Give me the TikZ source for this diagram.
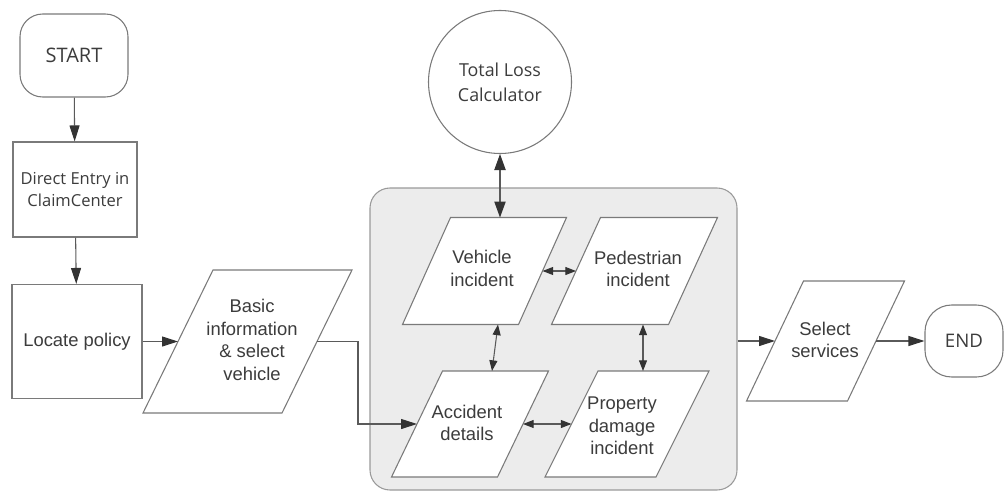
\documentclass[tikz,border=0pt]{standalone}
\usepackage{fontspec}
\setmainfont{Liberation Sans}
\newfontfamily\osans{Open Sans}
\usetikzlibrary{arrows.meta}
\definecolor{linec}{HTML}{5A5A5A}
\definecolor{headc}{HTML}{333333}
\definecolor{boxc}{HTML}{7A7A7A}
\definecolor{textc}{HTML}{3C3C3C}
\definecolor{groupfill}{HTML}{ECECEC}
\definecolor{groupline}{HTML}{9A9A9A}
\newcommand{\pgram}[6]{%
  \draw[pbox] ({#2-#4/2+#6/2},{#3-#5/2}) -- ({#2+#4/2+#6/2},{#3-#5/2}) -- ({#2+#4/2-#6/2},{#3+#5/2}) -- ({#2-#4/2-#6/2},{#3+#5/2}) -- cycle;
  \coordinate (#1-w) at ({#2-#4/2},#3);
  \coordinate (#1-e) at ({#2+#4/2},#3);
}
\begin{document}
\begin{tikzpicture}[x=0.75pt,y=-0.75pt,
  pbox/.style={draw=boxc, line width=0.8pt, fill=white},
  rbox/.style={draw=boxc, line width=0.8pt, fill=white, inner sep=0pt},
  txt/.style={align=center, text=textc, inner sep=0pt, font=\fontsize{13.8}{17}\selectfont},
  otxt/.style={align=center, text=textc, font=\osans\fontsize{12.4}{17}\selectfont},
  arr/.style={draw=linec, line width=0.8pt, -{Triangle[length=12pt,width=7.5pt,color=headc]}},
  dbl/.style={draw=linec, line width=0.8pt, {Triangle[length=8pt,width=6pt,color=headc]}-{Triangle[length=8pt,width=6pt,color=headc]}},
  dblbig/.style={draw=linec, line width=0.8pt, {Triangle[length=12pt,width=8.5pt,color=headc]}-{Triangle[length=12pt,width=8.5pt,color=headc]}}
]
\useasboundingbox (0,0) rectangle (1005,492);

% left column
\node[rbox, rounded corners=17pt, minimum width=81pt, minimum height=62.25pt, text=textc, font=\osans\fontsize{15}{18}\selectfont] (start) at (74,55.5) {START};
\node[rbox, minimum width=93pt, minimum height=71.25pt, otxt] (direct) at (75,189.5) {Direct Entry in\\ClaimCenter};
\node[rbox, minimum width=97.5pt, minimum height=85.5pt, txt] (locate) at (77,341.5) {Locate policy};

% basic info
\pgram{basic}{247.5}{341.5}{139}{143}{70}
\node[txt] (basictxt) at (252,340) {Basic\\information\\\& select\\vehicle};

% container
\node[draw=groupline, fill=groupfill, line width=0.8pt, rounded corners=15pt, minimum width=275.25pt, minimum height=226.5pt] (group) at (553.5,339) {};

% calculator
\node[circle, draw=boxc, line width=0.8pt, fill=white, minimum size=107.25pt, inner sep=0pt, text=textc, align=center, font=\osans\fontsize{13.4}{18.75}\selectfont] (calc) at (500,82) {Total Loss\\Calculator};

% incidents
\pgram{veh}{484.5}{271}{116}{107}{48}
\node[txt] (vehtxt) at (482,268.5) {Vehicle\\incident};
\pgram{ped}{634.5}{271}{117}{107}{49}
\node[txt] (pedtxt) at (638,269) {Pedestrian\\incident};
\pgram{acc}{470}{424}{106}{106}{51}
\node[txt] (acctxt) at (467,423) {Accident\\details};
\pgram{prop}{627}{424}{111}{106}{53}
\node[txt] (proptxt) at (622,426) {Property\\damage\\incident};

\coordinate (veh-t) at (500,217.5);
\coordinate (veh-b) at (498,324.5);
\coordinate (acc-t) at (492,371);
\coordinate (ped-b) at (643,324.5);
\coordinate (prop-t) at (643,371);

% select + end
\pgram{sel}{825.5}{341}{101}{120}{57}
\node[txt] (seltxt) at (825,340) {Select\\services};
\node[rbox, rounded corners=20pt, minimum width=58.5pt, minimum height=54pt, text=textc, font=\osans\fontsize{14}{17}\selectfont] (end) at (964,341) {END};

% connectors
\draw[arr] (start) -- (direct);
\draw[arr] (direct) -- (locate);
\draw[arr] (locate.east) -- (basic-w);
\draw[arr] (basic-e) -- ++(41,0) |- (acc-w);
\draw[dblbig] (calc.south) -- (veh-t);
\draw[dbl] (veh-e) -- (ped-w);
\draw[dbl] (veh-b) -- (acc-t);
\draw[dbl] (ped-b) -- (prop-t);
\draw[dbl] (acc-e) -- (prop-w);
\draw[arr] (group.east |- sel-w) -- (sel-w);
\draw[arr] (sel-e) -- (end.west);
\end{tikzpicture}
\end{document}
